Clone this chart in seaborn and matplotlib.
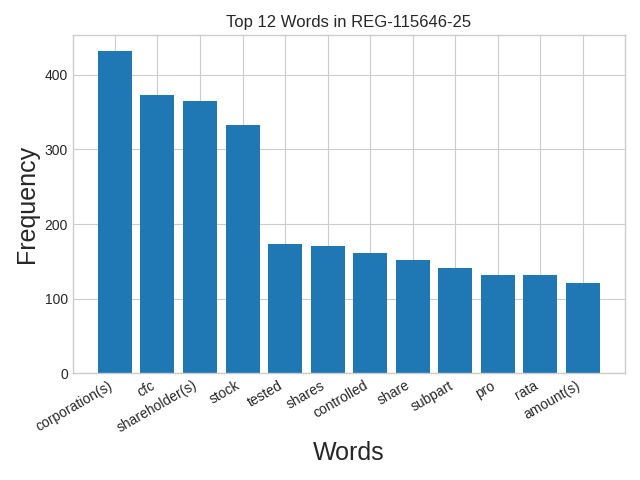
import matplotlib
matplotlib.use("Agg")
import matplotlib.pyplot as plt
import seaborn as sns

words = ["corporation(s)", "cfc", "shareholder(s)", "stock", "tested", "shares",
         "controlled", "share", "subpart", "pro", "rata", "amount(s)"]
freqs = [431, 373, 365, 333, 173, 171, 161, 152, 141, 132, 132, 121]

plt.style.use("seaborn-v0_8-whitegrid")
fig, ax = plt.subplots(figsize=(6.4, 4.8), dpi=100)
sns.barplot(x=words, y=freqs, color="#1f77b4", saturation=1, width=0.8, ax=ax)
ax.set_title("Top 12 Words in REG-115646-25")
ax.set_xlabel("Words", fontsize=18)
ax.set_ylabel("Frequency", fontsize=18)
plt.setp(ax.get_xticklabels(), rotation=30, ha="right")
ax.grid(True, axis="both")
ax.set_axisbelow(True)
ax.margins(x=0.05)
plt.tight_layout()
fig.savefig("out.png", dpi=100)
